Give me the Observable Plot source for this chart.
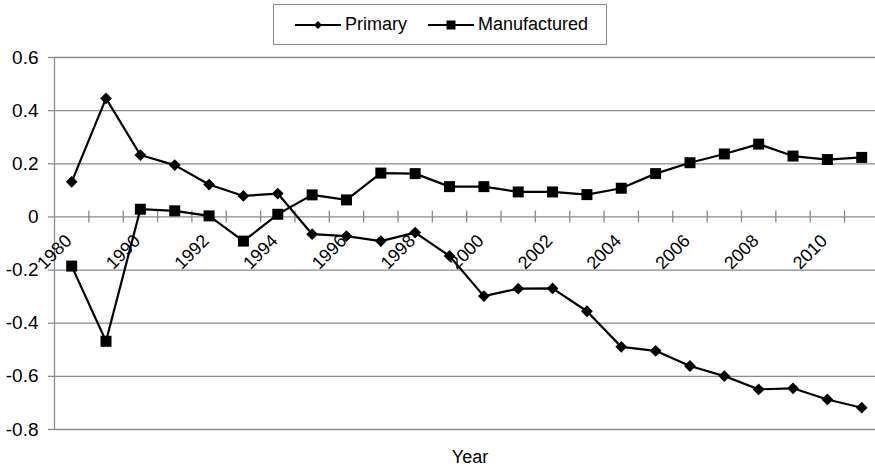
<!DOCTYPE html>
<html>
<head>
<meta charset="utf-8">
<script src="https://cdn.jsdelivr.net/npm/d3@7"></script>
<script src="https://cdn.jsdelivr.net/npm/@observablehq/plot@0.6"></script>
<style>
  body { margin: 0; background: #fff; font-family: "Liberation Sans", Arial, sans-serif; color: #000; }
  #chart { width: 875px; height: 474px; overflow: hidden; }
  .legend-row { position: relative; height: 50px; }
  .legend {
    position: absolute; left: 273px; top: 4px; width: 334px; height: 41px;
    box-sizing: border-box; border: 1px solid #8c8c8c;
    display: flex; align-items: center; padding-left: 21px; font-size: 18px;
  }
  .item { display: flex; align-items: center; }
  .item svg { display: block; margin-right: 4px; }
  .item + .item { margin-left: 21px; }
</style>
</head>
<body>
<div id="chart">
  <div class="legend-row"><div class="legend" id="legend"></div></div>
</div>
<script>
// Categories (the second one carries no label on the axis)
const years = ["1980", "1985", "1990", "1991", "1992", "1993", "1994", "1995", "1996", "1997",
               "1998", "1999", "2000", "2001", "2002", "2003", "2004", "2005", "2006", "2007",
               "2008", "2009", "2010", "2011"];

const primary = [0.132, 0.446, 0.233, 0.195, 0.122, 0.079, 0.088, -0.065, -0.072, -0.091,
                 -0.059, -0.147, -0.298, -0.270, -0.269, -0.355, -0.489, -0.504, -0.561, -0.599,
                 -0.649, -0.645, -0.687, -0.718];

const manufactured = [-0.185, -0.468, 0.029, 0.023, 0.004, -0.091, 0.010, 0.083, 0.064, 0.165,
                      0.163, 0.114, 0.114, 0.094, 0.094, 0.084, 0.108, 0.163, 0.204, 0.237,
                      0.274, 0.229, 0.216, 0.224];

const seriesNames = ["Primary", "Manufactured"];
const yTicks = [-0.8, -0.6, -0.4, -0.2, 0, 0.2, 0.4, 0.6];
const yTickLabels = ["-0.8", "-0.6", "-0.4", "-0.2", "0", "0.2", "0.4", "0.6"];

const FONT = "Liberation Sans, Arial, sans-serif";
const GRID = "#8a8a8a";

// Long table: one row per category and series
const rows = years.flatMap((year, i) => [
  {i, year, series: seriesNames[0], value: primary[i]},
  {i, year, series: seriesNames[1], value: manufactured[i]}
]);
const primaryRows = rows.filter(d => d.series === seriesNames[0]);
const manufacturedRows = rows.filter(d => d.series === seriesNames[1]);

// Every other category gets a label; tick marks sit between categories
const labelIdx = years.map((_, i) => i).filter(i => i % 2 === 0);
const boundaries = years.map((_, i) => i + 0.5);

const step = 34.35;
const chart = Plot.plot({
  width: 875,
  height: 424,
  marginTop: 7,
  marginBottom: 45,
  marginLeft: 54,
  marginRight: 0,
  style: {fontFamily: FONT, fontSize: "18px", color: "#000", background: "#fff", overflow: "visible"},
  x: {domain: [-0.5, years.length - 0.5], range: [54, 54 + years.length * step], axis: null},
  y: {domain: [-0.8, 0.6], axis: null},
  marks: [
    Plot.ruleY(yTicks, {stroke: GRID, strokeWidth: 1.3}),
    Plot.ruleX(boundaries, {x: d => d, y1: () => 0, y2: () => 0, insetTop: 6, insetBottom: 6,
                            stroke: GRID, strokeWidth: 1.3}),
    Plot.ruleX([-0.5], {y1: () => -0.8, y2: () => 0.6, stroke: GRID, strokeWidth: 1.3}),
    Plot.axisY({
      ticks: yTicks,
      tickFormat: d => yTickLabels[yTicks.indexOf(d)],
      tickSize: 6,
      tickPadding: 10,
      label: null,
      stroke: GRID,
      strokeWidth: 1.3,
      fill: "#000",
      fontSize: 19
    }),
    Plot.text(labelIdx, {
      x: d => d, y: () => 0, text: d => years[d],
      rotate: -45, textAnchor: "end", dx: -3, dy: 21, fontSize: 18, fill: "#000"
    }),
    Plot.line(primaryRows, {x: "i", y: "value", stroke: "#000", strokeWidth: 2.2}),
    Plot.line(manufacturedRows, {x: "i", y: "value", stroke: "#000", strokeWidth: 2.2}),
    Plot.dot(primaryRows, {x: "i", y: "value", symbol: "diamond2", r: 5.3, fill: "#000"}),
    Plot.dot(manufacturedRows, {x: "i", y: "value", symbol: "square", r: 6.2, fill: "#000"}),
    Plot.text(["Year"], {frameAnchor: "bottom", dy: 33, dx: 5, fontSize: 18, fill: "#000"})
  ]
});
document.getElementById("chart").appendChild(chart);

// Legend: line swatch with the series marker, then the series name
const markerPaths = {
  Primary: d3.symbol(d3.symbolDiamond2, 40)(),
  Manufactured: d3.symbol(d3.symbolSquare, 81)()
};
const legend = d3.select("#legend");
seriesNames.forEach(name => {
  const item = legend.append("div").attr("class", "item");
  const svg = item.append("svg").attr("width", 46).attr("height", 14);
  svg.append("line").attr("x1", 0).attr("x2", 46).attr("y1", 7).attr("y2", 7)
     .attr("stroke", "#000").attr("stroke-width", 2);
  svg.append("path").attr("d", markerPaths[name]).attr("transform", "translate(23,7)").attr("fill", "#000");
  item.append("span").text(name);
});
</script>
</body>
</html>
